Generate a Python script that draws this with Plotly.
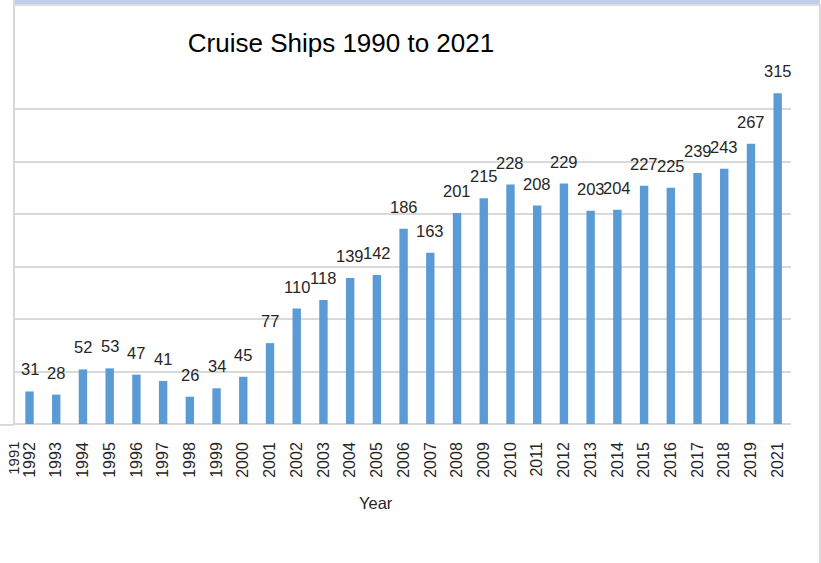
import plotly.graph_objects as go

# ---- data ----
years = ["1991", "1992", "1993", "1994", "1995", "1996", "1997", "1998", "1999", "2000",
         "2001", "2002", "2003", "2004", "2005", "2006", "2007", "2008", "2009", "2010",
         "2011", "2012", "2013", "2014", "2015", "2016", "2017", "2018", "2019", "2021"]
ships = [None, 31, 28, 52, 53, 47, 41, 26, 34, 45,
         77, 110, 118, 139, 142, 186, 163, 201, 215, 228,
         208, 229, 203, 204, 227, 225, 239, 243, 267, 315]
title_text = "Cruise Ships 1990 to 2021"
x_title = "Year"

# ---- layout geometry (pixels) ----
W, H = 821, 563
L, R, T, B = 14, 791, 60, 424
PX_PER_UNIT = 1.05
CAT_OFFSET, CAT_STEP = 2.8, 26.72   # pixel position of category 0 and spacing


def xp(p):
    return (p - L) / (R - L)


def yp(q):
    return (B - q) / (B - T)


FONT = "Liberation Sans, Arial, sans-serif"
GRID = "#d9d9d9"

fig = go.Figure()
fig.add_trace(go.Bar(
    x=years, y=ships,
    marker=dict(color="#5B9BD5", line=dict(width=0)),
    hoverinfo="x+y",
))

annotations = []
for i, (yr, v) in enumerate(zip(years, ships)):
    if v is None:
        continue
    annotations.append(dict(
        x=i, y=v, xref="x", yref="y", text=str(v), showarrow=False,
        yanchor="middle", yshift=22,
        font=dict(family=FONT, size=16.5, color="#262626"),
    ))

# first category label, which lies left of the plot area
annotations.append(dict(
    x=xp(CAT_OFFSET), xref="paper", y=0, yref="paper", text=years[0], showarrow=False,
    textangle=-90, yanchor="top", xanchor="left", yshift=-16,
    font=dict(family=FONT, size=15, color="#262626"),
))

annotations.append(dict(
    x=xp(376), y=yp(503), xref="paper", yref="paper", text=x_title, showarrow=False,
    xanchor="center", yanchor="middle",
    font=dict(family=FONT, size=16.5, color="#262626"),
))

x_range = [(L - CAT_OFFSET) / CAT_STEP, (R - CAT_OFFSET) / CAT_STEP]
y_max = (B - T) / PX_PER_UNIT

shapes = [
    dict(type="rect", xref="paper", yref="paper", x0=xp(14), x1=xp(820),
         y0=yp(4.5), y1=yp(0), fillcolor="#BFD0EC", line=dict(width=0), layer="above"),
    dict(type="line", xref="paper", yref="paper", x0=xp(14), x1=xp(820),
         y0=yp(5), y1=yp(5), line=dict(color=GRID, width=1.5)),
    dict(type="line", xref="paper", yref="paper", x0=xp(14), x1=xp(14),
         y0=yp(0), y1=yp(425), line=dict(color=GRID, width=2)),
    dict(type="line", xref="paper", yref="paper", x0=xp(0), x1=xp(14),
         y0=yp(425), y1=yp(425), line=dict(color=GRID, width=2)),
    dict(type="line", xref="paper", yref="paper", x0=xp(820), x1=xp(820),
         y0=yp(4), y1=yp(563), line=dict(color=GRID, width=2)),
]

fig.update_layout(
    width=W, height=H,
    margin=dict(l=L, r=W - R, t=T, b=H - B, pad=0),
    paper_bgcolor="white", plot_bgcolor="white",
    showlegend=False,
    bargap=0.686,
    title=dict(text=title_text, x=341 / W, xanchor="center", xref="container",
               y=1 - 43 / H, yanchor="middle", yref="container",
               font=dict(family=FONT, size=26, color="#000000")),
    xaxis=dict(type="category", categoryorder="array", categoryarray=years,
               range=x_range, tickangle=-90, showgrid=False, showline=False,
               ticks="", ticklabelstandoff=14,
               tickfont=dict(family=FONT, size=16, color="#262626")),
    yaxis=dict(range=[0, y_max], dtick=50, showticklabels=False, showgrid=True,
               gridcolor=GRID, gridwidth=1.5, zeroline=True, zerolinecolor=GRID,
               zerolinewidth=1.5, showline=False, ticks=""),
    annotations=annotations,
    shapes=shapes,
)

fig.write_html("out.html", config={"displayModeBar": False},
               post_script="document.body.style.margin='0';")
